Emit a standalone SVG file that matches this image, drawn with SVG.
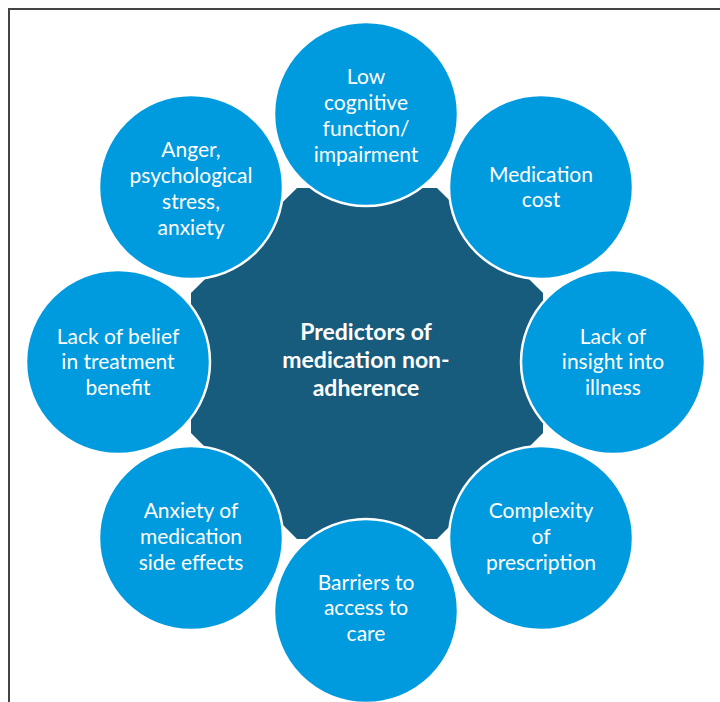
<svg xmlns="http://www.w3.org/2000/svg" width="720" height="702" viewBox="0 0 720 702">
<style>
.c{fill:#009ADE;stroke:#FFFFFF;stroke-width:2.5}
.t{font-family:Lato,"Liberation Sans",sans-serif;font-size:21px;fill:#FFFFFF;text-anchor:middle}
.h{font-family:Lato,"Liberation Sans",sans-serif;font-size:23px;font-weight:bold;fill:#FFFFFF;text-anchor:middle}
</style>
<rect x="0" y="0" width="720" height="702" fill="#FFFFFF"/>
<rect x="9" y="9" width="730" height="720" fill="none" stroke="#444444" stroke-width="2"/>
<g id="center">
<polygon points="297,188 437,188 543,293 543,433 437,539 297,539 191,433 191,293" fill="#175B7D"/>
</g>
<g id="connectors"></g>
<g id="n-top"><circle class="c" cx="366" cy="114" r="92"/>
<text class="t" x="366" y="84">Low</text><text class="t" x="366" y="110">cognitive</text><text class="t" x="366" y="136">function/</text><text class="t" x="366" y="162">impairment</text></g>
<g id="n-tr"><circle class="c" cx="541" cy="187" r="92"/>
<text class="t" x="541" y="182">Medication</text><text class="t" x="541" y="207">cost</text></g>
<g id="n-r"><circle class="c" cx="613" cy="362" r="92"/>
<text class="t" x="613" y="344">Lack of</text><text class="t" x="613" y="369">insight into</text><text class="t" x="613" y="395">illness</text></g>
<g id="n-br"><circle class="c" cx="541" cy="538" r="92"/>
<text class="t" x="541" y="518">Complexity</text><text class="t" x="541" y="544">of</text><text class="t" x="541" y="570">prescription</text></g>
<g id="n-b"><circle class="c" cx="366" cy="611" r="92"/>
<text class="t" x="366" y="590">Barriers to</text><text class="t" x="366" y="615">access to</text><text class="t" x="366" y="641">care</text></g>
<g id="n-bl"><circle class="c" cx="191" cy="538" r="92"/>
<text class="t" x="191" y="518">Anxiety of</text><text class="t" x="191" y="544">medication</text><text class="t" x="191" y="570">side effects</text></g>
<g id="n-l"><circle class="c" cx="118" cy="362" r="92"/>
<text class="t" x="118" y="344">Lack of belief</text><text class="t" x="118" y="369">in treatment</text><text class="t" x="118" y="395">benefit</text></g>
<g id="n-tl"><circle class="c" cx="191" cy="187" r="92"/>
<text class="t" x="191" y="157">Anger,</text><text class="t" x="191" y="183">psychological</text><text class="t" x="191" y="209">stress,</text><text class="t" x="191" y="235">anxiety</text></g>
<g id="label"><text class="h" x="366" y="340">Predictors of</text><text class="h" x="366" y="368">medication non-</text><text class="h" x="366" y="396">adherence</text></g>
</svg>
